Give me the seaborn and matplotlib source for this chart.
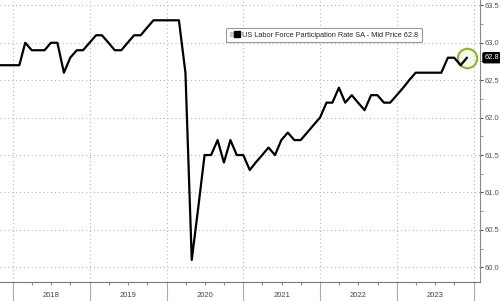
import numpy as np
import pandas as pd
import matplotlib
matplotlib.use("Agg")
import matplotlib.pyplot as plt
import matplotlib.dates as mdates
import matplotlib.transforms as mtransforms
from matplotlib.lines import Line2D
from matplotlib.legend_handler import HandlerTuple
import seaborn as sns

# ---- data (monthly, month-end, Oct 2017 .. Nov 2023) ----
start_month = "2017-10-01"
participation = [
    62.7, 62.7, 62.7, 62.7, 63.0, 62.9, 62.9, 62.9, 63.0, 63.0,
    62.6, 62.8, 62.9, 62.9, 63.0, 63.1, 63.1, 63.0, 62.9, 62.9,
    63.0, 63.1, 63.1, 63.2, 63.3, 63.3, 63.3, 63.3, 63.3, 62.6,
    60.1, 60.8, 61.5, 61.5, 61.7, 61.4, 61.7, 61.5, 61.5, 61.3,
    61.4, 61.5, 61.6, 61.5, 61.7, 61.8, 61.7, 61.7, 61.8, 61.9,
    62.0, 62.2, 62.2, 62.4, 62.2, 62.3, 62.2, 62.1, 62.3, 62.3,
    62.2, 62.2, 62.3, 62.4, 62.5, 62.6, 62.6, 62.6, 62.6, 62.6,
    62.8, 62.8, 62.7, 62.8,
]
year_labels = ["2018", "2019", "2020", "2021", "2022", "2023"]
ytick_values = [60.0, 60.5, 61.0, 61.5, 62.0, 62.5, 63.0, 63.5]
legend_label = "US Labor Force Participation Rate SA - Mid Price 62.8"
last_label = "62.8"

dates = pd.date_range(start_month, periods=len(participation), freq="MS") + pd.offsets.MonthEnd(0)
df = pd.DataFrame({"date": dates, "rate": participation})

sns.set_style("white")
plt.rcParams["font.family"] = ["Liberation Sans", "DejaVu Sans"]

fig = plt.figure(figsize=(5.0, 3.01), dpi=100)
ax = fig.add_axes([0.0, 0.062, 0.96, 0.938])

sns.lineplot(data=df, x="date", y="rate", ax=ax, color="black", linewidth=1.6, zorder=4)

# last point highlight
last = df.iloc[-1]
ax.plot([last["date"]], [last["rate"]], marker="o", markersize=14,
        markerfacecolor=(0.90, 0.95, 0.80, 0.5), markeredgecolor="#8fae3c",
        markeredgewidth=1.5, zorder=3, linestyle="none")

ax.set_xlim(pd.Timestamp("2017-10-31"), pd.Timestamp("2024-01-31"))
ax.set_ylim(59.8, 63.571)

# y axis on the right
ax.yaxis.tick_right()
ax.set_yticks(ytick_values)
ax.set_yticklabels([f"{v:.1f}" for v in ytick_values])
ax.yaxis.set_minor_locator(matplotlib.ticker.MultipleLocator(0.25))
ax.tick_params(axis="y", which="major", direction="out", length=2.5, width=0.8,
               colors="#555555", labelsize=5.4, pad=0.6, right=True, left=False)
ax.tick_params(axis="y", which="minor", direction="out", length=1.8, width=0.6,
               colors="#888888", right=True, left=False)

# x axis: year boundaries as long ticks, quarterly minor ticks
ax.xaxis.set_major_locator(mdates.YearLocator())
ax.xaxis.set_minor_locator(mdates.MonthLocator(bymonth=[4, 7, 10]))
ax.xaxis.set_major_formatter(matplotlib.ticker.NullFormatter())
ax.tick_params(axis="x", which="major", direction="out", length=14, width=0.8,
               colors="#aaaaaa", bottom=True)
ax.tick_params(axis="x", which="minor", direction="out", length=2.5, width=0.8,
               colors="#888888", bottom=True)

trans = mtransforms.blended_transform_factory(ax.transData, ax.transAxes)
for lab in year_labels:
    ax.text(pd.Timestamp(f"{lab}-07-01"), -0.048, lab, transform=trans,
            ha="center", va="center", fontsize=5.5, color="#444444")

ax.set_xlabel("")
ax.set_ylabel("")

# grid
ax.grid(True, axis="both", which="major", linestyle=(0, (1, 2.5)),
        color="#b8b8b8", linewidth=0.8)

for side in ["left", "top"]:
    ax.spines[side].set_visible(False)
ax.spines["right"].set_color("#888888")
ax.spines["right"].set_linewidth(0.8)
ax.spines["bottom"].set_color("#777777")
ax.spines["bottom"].set_linewidth(0.8)

# legend
h_gray = Line2D([], [], marker="s", color="#c8c8c8", linestyle="none", markersize=3)
h_black = Line2D([], [], marker="s", color="black", linestyle="none", markersize=4.5)
leg = ax.legend(handles=[(h_gray, h_black)], labels=[legend_label],
                handler_map={tuple: HandlerTuple(ndivide=None, pad=0.1)},
                loc="upper left", bbox_to_anchor=(0.470, 0.902), borderaxespad=0,
                fontsize=5.3, frameon=True, fancybox=True, handlelength=1.4,
                handletextpad=0.3, borderpad=0.5)
leg.get_frame().set_edgecolor("#999999")
leg.get_frame().set_linewidth(0.8)
leg.get_frame().set_facecolor("white")
leg.get_frame().set_alpha(1)

# last value tag on right axis
ax.annotate(last_label, xy=(1.0, last["rate"]), xycoords=("axes fraction", "data"),
            xytext=(3.2, 0), textcoords="offset points", ha="left", va="center",
            fontsize=5.4, color="white", annotation_clip=False,
            bbox=dict(boxstyle="round,pad=0.2", fc="black", ec="black"))

fig.savefig("out.png", dpi=100, facecolor="white")
